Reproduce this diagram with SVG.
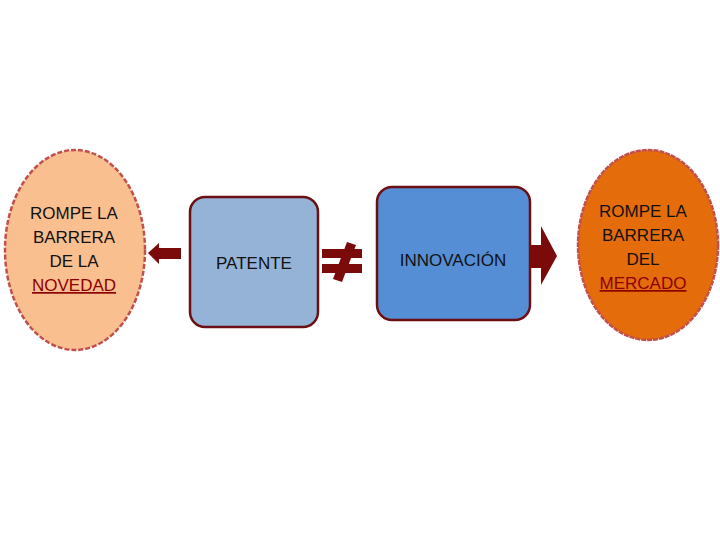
<svg xmlns="http://www.w3.org/2000/svg" width="720" height="540" viewBox="0 0 720 540">
<style>
text{font-family:"Liberation Sans","Open Sans",Arial,sans-serif;font-size:17px;fill:#111;text-anchor:middle}
.u{fill:#8B0000;text-decoration:underline}
.box{stroke:#6B0F12;stroke-width:2.5}
.conn{fill:#7B0A0A}
</style>
<rect width="720" height="540" fill="#fff"/>
<g id="novedad">
<ellipse cx="75" cy="250" rx="70" ry="100" fill="#FABF8F" stroke="#C0504D" stroke-width="2.5" stroke-dasharray="5 2"/>
<text x="74" y="219">ROMPE LA</text>
<text x="74" y="243">BARRERA</text>
<text x="74" y="267">DE LA</text>
<text x="74" y="291" class="u">NOVEDAD</text>
</g>
<g id="patente">
<rect class="box" x="190" y="197" width="128" height="130" rx="15" fill="#95B3D7"/>
<text x="254" y="269">PATENTE</text>
</g>
<g id="innovacion">
<rect class="box" x="377" y="187" width="153" height="133" rx="15" fill="#558ED5"/>
<text x="453" y="266">INNOVACIÓN</text>
</g>
<g id="mercado">
<ellipse cx="648" cy="245" rx="70" ry="95" fill="#E46C0A" stroke="#C0504D" stroke-width="2.5" stroke-dasharray="5 1"/>
<text x="643" y="217">ROMPE LA</text>
<text x="643" y="241">BARRERA</text>
<text x="643" y="265">DEL</text>
<text x="643" y="289" class="u">MERCADO</text>
</g>
<g id="connectors">
<polygon class="conn" points="148,253 159,243 159,248 181,248 181,259 159,259 159,264"/>
<rect class="conn" x="322" y="249" width="40" height="9"/>
<rect class="conn" x="322" y="264" width="40" height="9"/>
<polygon class="conn" points="347,242 356,245 342,282 333,279"/>
<polygon class="conn" points="530,245 541,245 541,226 557,256 541,285 541,268 530,268"/>
</g>
</svg>
